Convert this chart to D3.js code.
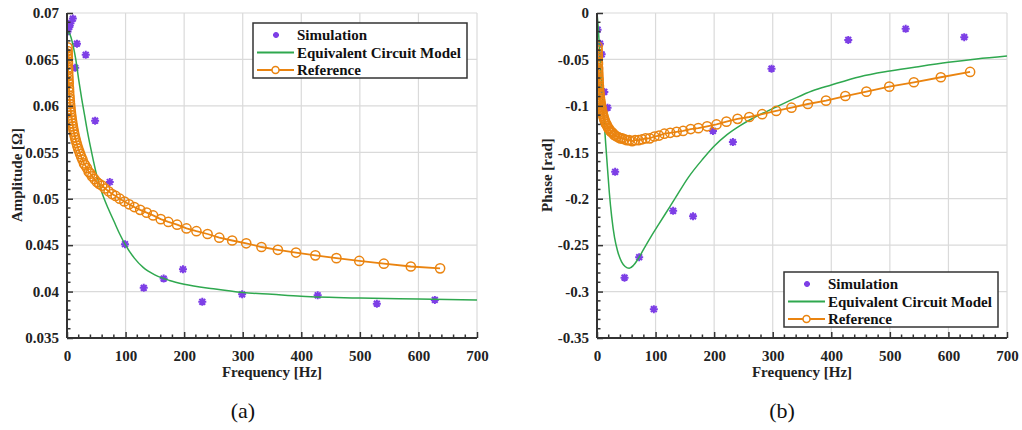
<!DOCTYPE html>
<html>
<head>
<meta charset='utf-8'>
<title>Amplitude and phase</title>
<script src='https://d3js.org/d3.v7.min.js'></script>
<style>
    body { margin: 0; background: #fff; }
    text { font-family: 'Liberation Serif', 'Times New Roman', serif; }
    .tick-label { font-size: 15px; font-weight: bold; fill: #222; }
    .axis-title { font-size: 15px; font-weight: bold; fill: #222; }
    .legend-text { font-size: 15px; font-weight: bold; fill: #111; }
    .caption { font-size: 22px; fill: #111; }
    .grid line { stroke: #dadada; stroke-width: 1.2; }
</style>
</head>
<body>
<svg id='chart' width='1022' height='430'></svg>
<script>
// frequency axis
const freqTicks = [0, 100, 200, 300, 400, 500, 600, 700];

// amplitude panel (a)
const ampTicks = [0.035, 0.04, 0.045, 0.05, 0.055, 0.06, 0.065, 0.07];
const ampTickLabels = ['0.035', '0.04', '0.045', '0.05', '0.055', '0.06', '0.065', '0.07'];
const ampSimFreq = [1, 4, 6, 10, 14, 17, 32, 48, 73, 99, 131, 165, 198, 231, 299, 428, 529, 628];
const ampSim = [0.0680, 0.0685, 0.0689, 0.0694, 0.0641, 0.0667, 0.0655, 0.0584, 0.0518, 0.0451,
    0.0404, 0.0414, 0.0424, 0.0389, 0.0397, 0.0396, 0.0387, 0.0391];
const ampModelFreq = [0, 5, 10, 15, 20, 25, 30, 35, 40, 45, 50, 60, 70, 80, 90, 100, 115, 130,
    150, 175, 200, 250, 300, 350, 400, 500, 600, 700];
const ampModel = [0.0680, 0.0677, 0.0666, 0.0650, 0.0628, 0.0608, 0.0590, 0.0572, 0.0556, 0.0541,
    0.0527, 0.0506, 0.0490, 0.0476, 0.0462, 0.0450, 0.0436, 0.0426, 0.0418, 0.0412, 0.0408,
    0.0403, 0.0399, 0.0397, 0.0395, 0.0393, 0.0392, 0.0391];

// reference frequencies (shared by both panels)
const refFreq = [1.0, 1.1, 1.2, 1.3, 1.4, 1.5, 1.6, 1.8, 1.9, 2.1, 2.3, 2.5, 2.7, 2.9, 3.2, 3.4,
    3.7, 4.1, 4.4, 4.8, 5.2, 5.6, 6.1, 6.6, 7.2, 7.8, 8.5, 9.2, 10, 10.8, 11.7, 12.7, 13.8, 15,
    16.3, 17.6, 19.1, 20.8, 22.5, 24.4, 26.5, 29, 31, 34, 37, 40, 43, 47, 51, 55, 60, 65, 71, 77,
    83, 90, 98, 106, 115, 125, 136, 147, 160, 173, 188, 204, 221, 240, 260, 282, 306, 332, 360,
    391, 424, 460, 499, 541, 587, 637];
const ampRef = [0.0663, 0.0659, 0.0656, 0.0653, 0.0651, 0.0648, 0.0646, 0.0641, 0.0639, 0.0636,
    0.0632, 0.0629, 0.0626, 0.0624, 0.0620, 0.0618, 0.0615, 0.0611, 0.0608, 0.0605, 0.0602,
    0.0599, 0.0596, 0.0593, 0.0590, 0.0587, 0.0584, 0.0581, 0.0578, 0.0575, 0.0572, 0.0569,
    0.0566, 0.0563, 0.0560, 0.0557, 0.0554, 0.0551, 0.0548, 0.0545, 0.0542, 0.0538, 0.0536,
    0.0533, 0.0529, 0.0527, 0.0524, 0.0521, 0.0518, 0.0516, 0.0514, 0.0511, 0.0508, 0.0505,
    0.0503, 0.0500, 0.0497, 0.0494, 0.0491, 0.0488, 0.0485, 0.0482, 0.0478, 0.0475, 0.0472,
    0.0468, 0.0465, 0.0462, 0.0458, 0.0455, 0.0452, 0.0448, 0.0445, 0.0442, 0.0439, 0.0436,
    0.0433, 0.0430, 0.0427, 0.0425];

// phase panel (b)
const phaseTicks = [-0.35, -0.3, -0.25, -0.2, -0.15, -0.1, -0.05, 0];
const phaseTickLabels = ['-0.35', '-0.3', '-0.25', '-0.2', '-0.15', '-0.1', '-0.05', '0'];
const phaseSimFreq = [1, 5, 8, 12.5, 18, 31, 47, 72, 97, 130, 164, 198, 232, 298, 429, 527, 627];
const phaseSim = [-0.018, -0.033, -0.0445, -0.085, -0.102, -0.171, -0.285, -0.263, -0.319,
    -0.213, -0.219, -0.127, -0.139, -0.060, -0.029, -0.017, -0.026];
const phaseModelFreq = [0, 2, 4, 6, 8, 10, 12, 15, 18, 21, 25, 30, 35, 42, 48, 55, 62, 70, 80,
    93, 105, 116, 133, 156, 181, 199, 222, 245, 270, 300, 334, 367, 400, 449, 500, 551, 600, 648, 700];
const phaseModel = [0, -0.015, -0.035, -0.058, -0.078, -0.098, -0.115, -0.142, -0.168, -0.193,
    -0.219, -0.242, -0.256, -0.268, -0.273, -0.275, -0.272, -0.265, -0.254, -0.240, -0.228,
    -0.217, -0.200, -0.177, -0.157, -0.144, -0.131, -0.121, -0.112, -0.103, -0.093, -0.084,
    -0.0775, -0.0686, -0.0625, -0.0575, -0.0531, -0.0495, -0.0463];
const phaseRef = [-0.036, -0.040, -0.044, -0.047, -0.050, -0.053, -0.055, -0.059, -0.061, -0.064,
    -0.067, -0.070, -0.072, -0.075, -0.078, -0.080, -0.083, -0.086, -0.088, -0.091, -0.093,
    -0.095, -0.097, -0.099, -0.101, -0.103, -0.105, -0.107, -0.109, -0.111, -0.113, -0.115,
    -0.117, -0.119, -0.120, -0.122, -0.124, -0.125, -0.127, -0.128, -0.129, -0.131, -0.132,
    -0.133, -0.134, -0.135, -0.135, -0.136, -0.137, -0.137, -0.138, -0.137, -0.137, -0.136,
    -0.135, -0.135, -0.133, -0.132, -0.130, -0.129, -0.128, -0.127, -0.125, -0.124, -0.122,
    -0.120, -0.117, -0.114, -0.112, -0.109, -0.1055, -0.102, -0.098, -0.0944, -0.0894, -0.0847,
    -0.0793, -0.0746, -0.0692, -0.0635];

const seriesNames = ['Simulation', 'Equivalent Circuit Model', 'Reference'];

const colors = { sim: '#7d3fe6', model: '#2fa84f', ref: '#ea8410', axis: '#333' };
const starPath = 'M-4,0H4M0,-4V4M-2.9,-2.9L2.9,2.9M-2.9,2.9L2.9,-2.9';

const svg = d3.select('#chart');

function zip(xs, ys) {
    return xs.map((x, i) => ({ f: x, v: ys[i] }));
}

function drawPanel(opt) {
    const x = d3.scaleLinear().domain([0, 700]).range([opt.left, opt.left + 410]);
    const y = d3.scaleLinear().domain(opt.yDomain).range([338, 13]);
    const g = svg.append('g');

    // grid
    const grid = g.append('g').attr('class', 'grid');
    grid.selectAll('.gx').data(freqTicks.slice(1)).enter().append('line')
        .attr('x1', d => x(d)).attr('x2', d => x(d)).attr('y1', 13).attr('y2', 338);
    grid.selectAll('.gy').data(opt.yTicks.slice(1)).enter().append('line')
        .attr('x1', x(0)).attr('x2', x(700)).attr('y1', d => y(d)).attr('y2', d => y(d));

    const clipId = 'clip-' + opt.id;
    svg.append('clipPath').attr('id', clipId).append('rect')
        .attr('x', x(0)).attr('y', 11).attr('width', 412).attr('height', 328);
    const plot = g.append('g').attr('clip-path', `url(#${clipId})`);

    // simulation stars
    plot.selectAll('.star').data(zip(opt.simF, opt.sim)).enter().append('path')
        .attr('d', starPath)
        .attr('transform', d => `translate(${x(d.f)},${y(d.v)})`)
        .attr('stroke', colors.sim).attr('stroke-width', 2).attr('fill', 'none');

    // equivalent circuit model
    const line = d3.line().x(d => x(d.f)).y(d => y(d.v)).curve(d3.curveMonotoneX);
    plot.append('path').datum(zip(opt.modelF, opt.model))
        .attr('d', line).attr('fill', 'none')
        .attr('stroke', colors.model).attr('stroke-width', 1.5);

    // reference
    const refLine = d3.line().x(d => x(d.f)).y(d => y(d.v));
    const refData = zip(refFreq, opt.ref);
    plot.append('path').datum(refData)
        .attr('d', refLine).attr('fill', 'none')
        .attr('stroke', colors.ref).attr('stroke-width', 1.8);
    plot.selectAll('.ref').data(refData).enter().append('circle')
        .attr('cx', d => x(d.f)).attr('cy', d => y(d.v)).attr('r', 4.6)
        .attr('fill', 'none').attr('stroke', colors.ref).attr('stroke-width', 1.5);

    // axes with inward ticks
    const xAxis = d3.axisBottom(x).tickValues(freqTicks).tickSize(-6).tickPadding(12)
        .tickFormat(d => String(d));
    const gx = g.append('g').attr('transform', 'translate(0,338)').call(xAxis);
    const minorX = d3.range(0, 701, 20).filter(d => d % 100 !== 0);
    gx.selectAll('.minor').data(minorX).enter().append('line')
        .attr('x1', d => x(d)).attr('x2', d => x(d)).attr('y1', 0).attr('y2', -3.5)
        .attr('stroke', colors.axis).attr('stroke-width', 1.5);

    const yAxis = d3.axisLeft(y).tickValues(opt.yTicks).tickSize(-6).tickPadding(8)
        .tickFormat((d, i) => opt.yLabels[i]);
    const gy = g.append('g').attr('transform', `translate(${x(0)},0)`).call(yAxis);
    const minorY = [];
    for (let i = 0; i < opt.yTicks.length - 1; i++) {
        const step = (opt.yTicks[i + 1] - opt.yTicks[i]) / 5;
        for (let k = 1; k < 5; k++) minorY.push(opt.yTicks[i] + step * k);
    }
    gy.selectAll('.minor').data(minorY).enter().append('line')
        .attr('x1', 0).attr('x2', 3.5).attr('y1', d => y(d)).attr('y2', d => y(d))
        .attr('stroke', colors.axis).attr('stroke-width', 1.5);

    [gx, gy].forEach(a => {
        a.select('.domain').attr('stroke', colors.axis).attr('stroke-width', 2);
        a.selectAll('.tick line').attr('stroke', colors.axis).attr('stroke-width', 1.5);
        a.selectAll('.tick text').attr('class', 'tick-label').attr('font-size', null)
            .attr('font-family', null);
    });
    gx.select('.domain').attr('d', `M${x(0)},0H${x(700)}`);
    gy.select('.domain').attr('d', 'M0,338V13');

    // axis titles
    g.append('text').attr('class', 'axis-title')
        .attr('x', (x(0) + x(700)) / 2).attr('y', 377).attr('text-anchor', 'middle')
        .text('Frequency [Hz]');
    g.append('text').attr('class', 'axis-title')
        .attr('transform', `translate(${opt.yTitleX},175) rotate(-90)`)
        .attr('text-anchor', 'middle').text(opt.yTitle);

    // caption
    svg.append('text').attr('class', 'caption')
        .attr('x', opt.captionX).attr('y', 418).attr('text-anchor', 'middle').text(opt.caption);

    // legend
    const lg = g.append('g').attr('transform', `translate(${opt.legend[0]},${opt.legend[1]})`);
    lg.append('rect').attr('width', 214).attr('height', 55)
        .attr('fill', '#fff').attr('stroke', '#333').attr('stroke-width', 1.5);
    seriesNames.forEach((name, i) => {
        const cy = 12 + i * 17.5;
        if (i === 0) {
            lg.append('path').attr('d', 'M-3,0H3M0,-3V3M-2.1,-2.1L2.1,2.1M-2.1,2.1L2.1,-2.1')
                .attr('transform', `translate(23,${cy})`)
                .attr('stroke', colors.sim).attr('stroke-width', 1.8);
        } else {
            const c = i === 1 ? colors.model : colors.ref;
            lg.append('line').attr('x1', 4).attr('x2', 41).attr('y1', cy).attr('y2', cy)
                .attr('stroke', c).attr('stroke-width', 1.8);
            if (i === 2) {
                lg.append('circle').attr('cx', 22.5).attr('cy', cy).attr('r', 3.5)
                    .attr('fill', '#fff').attr('stroke', c).attr('stroke-width', 1.5);
            }
        }
        lg.append('text').attr('class', 'legend-text').attr('x', 44).attr('y', cy + 5).text(name);
    });
}

drawPanel({
    id: 'a', left: 67, yDomain: [0.035, 0.07], yTicks: ampTicks, yLabels: ampTickLabels,
    simF: ampSimFreq, sim: ampSim, modelF: ampModelFreq, model: ampModel, ref: ampRef,
    yTitle: 'Amplitude [Ω]', yTitleX: 22, caption: '(a)', captionX: 243, legend: [253, 23]
});
drawPanel({
    id: 'b', left: 597, yDomain: [-0.35, 0], yTicks: phaseTicks, yLabels: phaseTickLabels,
    simF: phaseSimFreq, sim: phaseSim, modelF: phaseModelFreq, model: phaseModel, ref: phaseRef,
    yTitle: 'Phase [rad]', yTitleX: 552, caption: '(b)', captionX: 782, legend: [784, 272]
});
</script>
</body>
</html>
